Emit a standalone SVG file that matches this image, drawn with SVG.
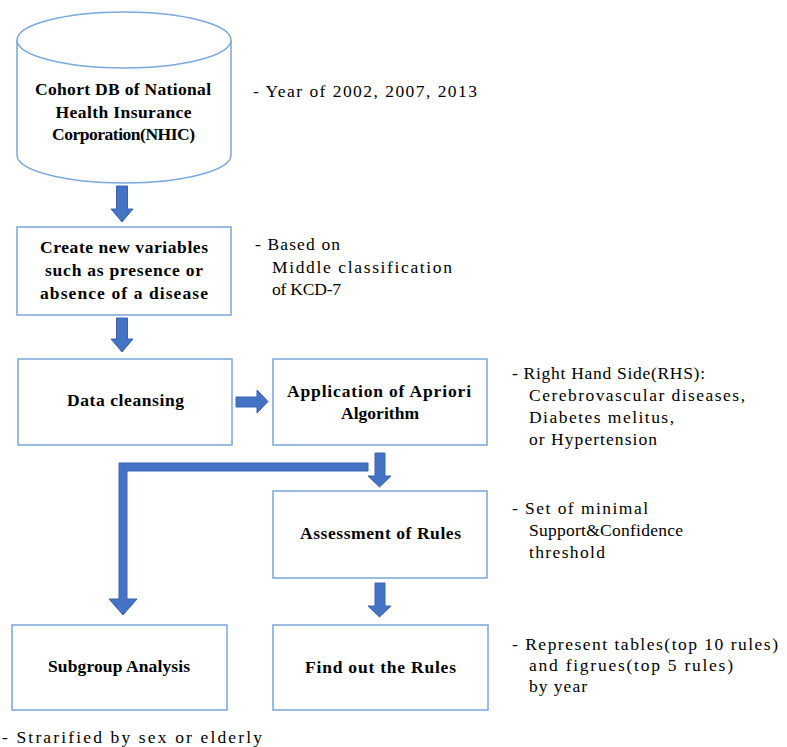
<svg xmlns="http://www.w3.org/2000/svg" width="787" height="747" viewBox="0 0 787 747">
  <style>
    .box { fill: #ffffff; stroke: #7AA7DC; stroke-width: 1.5; }
    .arrow { fill: #4472C4; stroke: #3A64B0; stroke-width: 1; stroke-linejoin: miter; }
    .label { font-family: "Liberation Serif", "DejaVu Serif", serif; font-size: 17.5px; font-weight: bold; fill: #000; text-anchor: middle; }
    .note { font-family: "Liberation Serif", "DejaVu Serif", serif; font-size: 17.5px; fill: #000; }
  </style>
  <rect width="787" height="747" fill="#ffffff"/>

  <!-- connectors -->
  <g id="connectors">
    <polygon class="arrow" points="116.5,186 127.5,186 127.5,209 133,209 122,222 111,209 116.5,209"/>
    <polygon class="arrow" points="116.5,318 127.5,318 127.5,339 133,339 122,352 111,339 116.5,339"/>
    <polygon class="arrow" points="236,397 257,397 257,390 268,401.5 257,413 257,407 236,407"/>
    <polygon class="arrow" points="375,453 385,453 385,476 391,476 379.5,487 368,476 375,476"/>
    <polygon class="arrow" points="375,583 385,583 385,606 391,606 379.5,617 368,606 375,606"/>
    <polygon class="arrow" points="368,463 119,463 119,599 109,599 123,615 137,599 127,599 127,471 368,471"/>
  </g>

  <!-- source database -->
  <g id="cohort-db">
    <path class="box" d="M17,40 L17,155 A107,28 0 0 0 231,155 L231,40"/>
    <ellipse class="box" cx="124" cy="40" rx="107" ry="28"/>
    <text class="label" x="123" y="95" textLength="176" lengthAdjust="spacing">Cohort DB of National</text>
    <text class="label" x="123.5" y="117.5" textLength="136" lengthAdjust="spacing">Health Insurance</text>
    <text class="label" x="123.5" y="140" textLength="143" lengthAdjust="spacing">Corporation(NHIC)</text>
  </g>

  <g id="create-variables">
    <rect class="box" x="17" y="227" width="214" height="88"/>
    <text class="label" x="124" y="253" textLength="168" lengthAdjust="spacing">Create new variables</text>
    <text class="label" x="124" y="276" textLength="158" lengthAdjust="spacing">such as presence or</text>
    <text class="label" x="124" y="299" textLength="168" lengthAdjust="spacing">absence of a disease</text>
  </g>

  <g id="data-cleansing">
    <rect class="box" x="18" y="359" width="214" height="86"/>
    <text class="label" x="125.5" y="406" textLength="117" lengthAdjust="spacing">Data cleansing</text>
  </g>

  <g id="apriori">
    <rect class="box" x="273" y="359" width="214" height="86"/>
    <text class="label" x="379" y="397" textLength="184" lengthAdjust="spacing">Application of Apriori</text>
    <text class="label" x="380" y="419" textLength="78" lengthAdjust="spacing">Algorithm</text>
  </g>

  <g id="assessment">
    <rect class="box" x="273" y="491" width="214" height="87"/>
    <text class="label" x="380.5" y="539" textLength="161" lengthAdjust="spacing">Assessment of Rules</text>
  </g>

  <g id="find-rules">
    <rect class="box" x="273" y="625" width="215" height="85"/>
    <text class="label" x="380.5" y="673" textLength="151" lengthAdjust="spacing">Find out the Rules</text>
  </g>

  <g id="subgroup">
    <rect class="box" x="12" y="625" width="215" height="85"/>
    <text class="label" x="119" y="672" textLength="142" lengthAdjust="spacing">Subgroup Analysis</text>
  </g>

  <!-- annotations -->
  <g id="notes">
    <text class="note" x="253" y="97" textLength="224" lengthAdjust="spacing">- Year of 2002, 2007, 2013</text>

    <text class="note" x="255" y="250" textLength="85" lengthAdjust="spacing">- Based on</text>
    <text class="note" x="272" y="273" textLength="180" lengthAdjust="spacing">Middle classification</text>
    <text class="note" x="272" y="295" textLength="69" lengthAdjust="spacing">of KCD-7</text>

    <text class="note" x="512" y="379" textLength="193" lengthAdjust="spacing">- Right Hand Side(RHS):</text>
    <text class="note" x="529" y="401" textLength="216" lengthAdjust="spacing">Cerebrovascular diseases,</text>
    <text class="note" x="529" y="423" textLength="145" lengthAdjust="spacing">Diabetes melitus,</text>
    <text class="note" x="529" y="445" textLength="128" lengthAdjust="spacing">or Hypertension</text>

    <text class="note" x="512" y="514" textLength="136" lengthAdjust="spacing">- Set of minimal</text>
    <text class="note" x="529" y="536" textLength="154" lengthAdjust="spacing">Support&amp;Confidence</text>
    <text class="note" x="529" y="558" textLength="76" lengthAdjust="spacing">threshold</text>

    <text class="note" x="512" y="650" textLength="266" lengthAdjust="spacing">- Represent tables(top 10 rules)</text>
    <text class="note" x="529" y="671" textLength="204" lengthAdjust="spacing">and figrues(top 5 rules)</text>
    <text class="note" x="529" y="692" textLength="58" lengthAdjust="spacing">by year</text>

    <text class="note" x="2" y="743" textLength="260" lengthAdjust="spacing">- Strarified by sex or elderly</text>
  </g>
</svg>
